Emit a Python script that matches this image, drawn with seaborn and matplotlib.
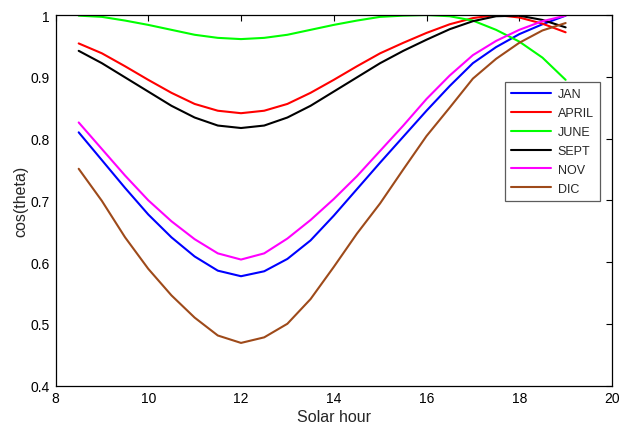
import numpy as np
import pandas as pd
import matplotlib
matplotlib.use("Agg")
import matplotlib.pyplot as plt
import seaborn as sns

hours = [8.5, 9, 9.5, 10, 10.5, 11, 11.5, 12, 12.5, 13, 13.5, 14,
         14.5, 15, 15.5, 16, 16.5, 17, 17.5, 18, 18.5, 19]

jan = [0.810, 0.765, 0.720, 0.677, 0.640, 0.609, 0.586, 0.577, 0.585, 0.605, 0.635,
       0.675, 0.718, 0.761, 0.803, 0.845, 0.885, 0.922, 0.948, 0.969, 0.985, 0.999]
april = [0.954, 0.938, 0.917, 0.895, 0.874, 0.856, 0.845, 0.841, 0.845, 0.856, 0.874,
         0.895, 0.917, 0.938, 0.955, 0.971, 0.985, 0.995, 1.000, 0.996, 0.986, 0.972]
june = [0.999, 0.997, 0.991, 0.984, 0.976, 0.968, 0.963, 0.961, 0.963, 0.968, 0.976,
        0.984, 0.991, 0.997, 0.999, 1.000, 0.998, 0.991, 0.976, 0.957, 0.931, 0.895]
sept = [0.942, 0.922, 0.899, 0.876, 0.853, 0.834, 0.821, 0.817, 0.821, 0.834, 0.853,
        0.876, 0.899, 0.922, 0.942, 0.960, 0.977, 0.990, 0.998, 0.999, 0.992, 0.980]
nov = [0.826, 0.783, 0.740, 0.700, 0.666, 0.637, 0.614, 0.604, 0.614, 0.638, 0.668,
       0.702, 0.739, 0.780, 0.821, 0.864, 0.902, 0.935, 0.958, 0.976, 0.990, 0.999]
dic = [0.751, 0.699, 0.640, 0.589, 0.546, 0.510, 0.481, 0.469, 0.478, 0.500, 0.540,
       0.592, 0.646, 0.695, 0.750, 0.804, 0.850, 0.897, 0.929, 0.955, 0.975, 0.987]

months = ["JAN", "APRIL", "JUNE", "SEPT", "NOV", "DIC"]
series = [jan, april, june, sept, nov, dic]
colors = ["#0000ff", "#ff0000", "#00ff00", "#000000", "#ff00ff", "#9e4a1a"]

x_ticks = [8, 10, 12, 14, 16, 18, 20]
y_ticks = [0.4, 0.5, 0.6, 0.7, 0.8, 0.9, 1.0]
y_tick_labels = ["0.4", "0.5", "0.6", "0.7", "0.8", "0.9", "1"]

rows = []
for m, vals in zip(months, series):
    for h, v in zip(hours, vals):
        rows.append({"hour": h, "value": v, "month": m})
df = pd.DataFrame(rows)

sns.set_style("white")
plt.rcParams["font.family"] = ["Liberation Sans", "DejaVu Sans"]

fig = plt.figure(figsize=(6.25, 4.27), dpi=100)
ax = fig.add_axes([0.0888, 0.0948, 0.8904, 0.8677])

sns.lineplot(data=df, x="hour", y="value", hue="month", hue_order=months,
             palette=dict(zip(months, colors)), sort=False, estimator=None,
             linewidth=1.5, ax=ax, legend=False)

ax.set_xlim(8, 20)
ax.set_ylim(0.4, 1.0)
ax.set_xticks(x_ticks)
ax.set_xticklabels([str(t) for t in x_ticks])
ax.set_yticks(y_ticks)
ax.set_yticklabels(y_tick_labels)
ax.tick_params(direction="in", length=4, width=0.8, top=True, right=True,
               labelsize=10, colors="#000000", pad=4)
for s in ax.spines.values():
    s.set_visible(True)
    s.set_color("black")
    s.set_linewidth(0.9)

ax.set_xlabel("Solar hour", fontsize=11.5, labelpad=3)
ax.set_ylabel("cos(theta)", fontsize=11.5, labelpad=2)

handles = [plt.Line2D([], [], color=c, linewidth=1.5) for c in colors]
leg = ax.legend(handles, months, loc="upper right", bbox_to_anchor=(0.978, 0.819),
                frameon=True, fancybox=False, shadow=False, fontsize=9,
                handlelength=3.2, handletextpad=0.5, labelspacing=0.55,
                borderpad=0.5, borderaxespad=0)
leg.get_frame().set_edgecolor("#333333")
leg.get_frame().set_linewidth(0.9)

fig.savefig("out.png", dpi=100)
